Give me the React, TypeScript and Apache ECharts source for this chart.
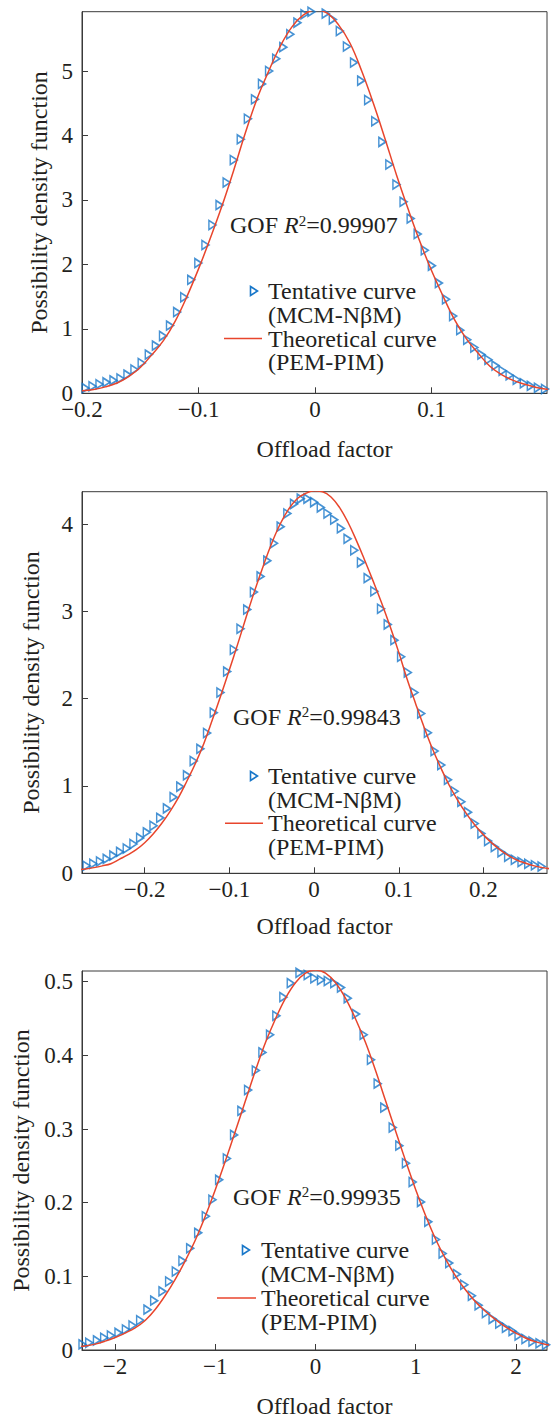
import React, { useEffect, useRef } from 'react';
import * as echarts from 'echarts';

// ---------- tick labels ----------
const X1_TICKS = [-0.2, -0.1, 0, 0.1];
const Y1_TICKS = [0, 1, 2, 3, 4, 5];
const X2_TICKS = [-0.2, -0.1, 0, 0.1, 0.2];
const Y2_TICKS = [0, 1, 2, 3, 4];
const X3_TICKS = [-2, -1, 0, 1, 2];
const Y3_TICKS = [0, 0.1, 0.2, 0.3, 0.4, 0.5];

// ---------- panel 1 ----------
const P1_MARK_X = [-0.1969, -0.191, -0.185, -0.179, -0.173, -0.167, -0.161, -0.155, -0.1488, -0.1427, -0.1366, -0.1305, -0.1245, -0.1184, -0.1123, -0.1063, -0.1002, -0.0941, -0.0881, -0.082, -0.0759, -0.0698, -0.0638, -0.0577, -0.0516, -0.0456, -0.0395, -0.0334, -0.0273, -0.0213, -0.0152, -0.0091, -0.0031, 0.003, 0.0091, 0.0152, 0.0212, 0.0273, 0.0334, 0.0395, 0.0455, 0.0516, 0.0577, 0.0637, 0.0698, 0.0759, 0.082, 0.088, 0.0941, 0.1002, 0.1062, 0.1123, 0.1184, 0.1245, 0.1305, 0.1366, 0.1427, 0.1487, 0.1548, 0.1609, 0.1669, 0.173, 0.1791, 0.1851, 0.1912, 0.1973];
const P1_MARK_Y = [0.08, 0.11, 0.14, 0.17, 0.2, 0.23, 0.29, 0.37, 0.47, 0.6, 0.74, 0.89, 1.05, 1.26, 1.49, 1.76, 2.02, 2.3, 2.61, 2.92, 3.27, 3.62, 3.94, 4.26, 4.56, 4.8, 5.0, 5.19, 5.37, 5.57, 5.75, 5.88, 5.92, 5.93, 5.89, 5.8, 5.62, 5.38, 5.13, 4.85, 4.55, 4.22, 3.9, 3.55, 3.24, 2.97, 2.71, 2.47, 2.22, 1.98, 1.71, 1.46, 1.2, 0.98, 0.83, 0.71, 0.6, 0.52, 0.43, 0.35, 0.28, 0.21, 0.155, 0.115, 0.087, 0.067];
const P1_CURVE_X = [-0.2, -0.19, -0.18, -0.17, -0.16, -0.15, -0.14, -0.13, -0.12, -0.11, -0.1, -0.09, -0.08, -0.07, -0.06, -0.05, -0.04, -0.03, -0.02, -0.01, 0, 0.01, 0.02, 0.03, 0.04, 0.05, 0.06, 0.07, 0.08, 0.09, 0.1, 0.11, 0.12, 0.13, 0.14, 0.15, 0.16, 0.17, 0.18, 0.19, 0.2];
const P1_CURVE_Y = [0.04, 0.06, 0.1, 0.16, 0.26, 0.4, 0.6, 0.82, 1.12, 1.5, 1.93, 2.4, 2.9, 3.45, 4.03, 4.56, 4.99, 5.38, 5.68, 5.87, 5.95, 5.9, 5.72, 5.43, 5.0, 4.5, 3.95, 3.38, 2.85, 2.35, 1.9, 1.5, 1.13, 0.84, 0.62, 0.42, 0.29, 0.2, 0.14, 0.09, 0.06];

// ---------- panel 2 ----------
const P2_MARK_X = [-0.2686, -0.2607, -0.2528, -0.2449, -0.237, -0.2291, -0.2212, -0.2133, -0.2054, -0.1975, -0.1896, -0.1817, -0.1738, -0.1659, -0.158, -0.1501, -0.1422, -0.1343, -0.1264, -0.1185, -0.1106, -0.1027, -0.0948, -0.0869, -0.079, -0.0711, -0.0632, -0.0553, -0.0474, -0.0395, -0.0316, -0.0237, -0.0158, -0.0079, 0.0, 0.0079, 0.0158, 0.0237, 0.0316, 0.0395, 0.0474, 0.0553, 0.0632, 0.0711, 0.079, 0.0869, 0.0948, 0.1027, 0.1106, 0.1185, 0.1264, 0.1343, 0.1422, 0.1501, 0.158, 0.1659, 0.1738, 0.1817, 0.1896, 0.1975, 0.2054, 0.2133, 0.2212, 0.2291, 0.237, 0.2449, 0.2528, 0.2607, 0.2686];
const P2_MARK_Y = [0.087, 0.11, 0.135, 0.165, 0.203, 0.245, 0.284, 0.335, 0.405, 0.469, 0.544, 0.635, 0.743, 0.872, 0.992, 1.122, 1.286, 1.425, 1.607, 1.84, 2.07, 2.31, 2.56, 2.8, 3.02, 3.22, 3.4, 3.58, 3.78, 3.97, 4.12, 4.23, 4.29, 4.29, 4.25, 4.19, 4.12, 4.05, 3.95, 3.83, 3.7, 3.56, 3.38, 3.23, 3.03, 2.85, 2.67, 2.48, 2.3, 2.07, 1.83, 1.61, 1.4, 1.24, 1.07, 0.94, 0.82, 0.7, 0.57, 0.455, 0.37, 0.3, 0.24, 0.19, 0.155, 0.13, 0.11, 0.092, 0.078];
const P2_CURVE_X = [-0.28, -0.27, -0.26, -0.25, -0.24, -0.23, -0.22, -0.21, -0.2, -0.19, -0.18, -0.17, -0.16, -0.15, -0.14, -0.13, -0.12, -0.11, -0.1, -0.09, -0.08, -0.07, -0.06, -0.05, -0.04, -0.03, -0.02, -0.01, 0, 0.01, 0.02, 0.03, 0.04, 0.05, 0.06, 0.07, 0.08, 0.09, 0.1, 0.11, 0.12, 0.13, 0.14, 0.15, 0.16, 0.17, 0.18, 0.19, 0.2, 0.21, 0.22, 0.23, 0.24, 0.25, 0.26, 0.27, 0.28];
const P2_CURVE_Y = [0.04, 0.05, 0.065, 0.085, 0.11, 0.16, 0.21, 0.27, 0.35, 0.45, 0.57, 0.71, 0.87, 1.06, 1.26, 1.49, 1.76, 2.04, 2.33, 2.63, 2.94, 3.24, 3.52, 3.78, 4.0, 4.17, 4.29, 4.35, 4.38, 4.37, 4.31, 4.19, 4.02, 3.81, 3.58, 3.34, 3.09, 2.82, 2.53, 2.22, 1.94, 1.67, 1.42, 1.2, 1.0, 0.83, 0.68, 0.55, 0.44, 0.345, 0.265, 0.2, 0.15, 0.115, 0.085, 0.065, 0.05];

// ---------- panel 3 ----------
const P3_MARK_X = [-2.325, -2.258, -2.181, -2.109, -2.042, -1.966, -1.892, -1.826, -1.75, -1.677, -1.61, -1.527, -1.461, -1.394, -1.328, -1.251, -1.171, -1.095, -1.029, -0.962, -0.885, -0.813, -0.74, -0.673, -0.596, -0.53, -0.454, -0.391, -0.321, -0.247, -0.16, -0.078, -0.012, 0.055, 0.122, 0.187, 0.254, 0.321, 0.404, 0.48, 0.553, 0.62, 0.686, 0.77, 0.836, 0.902, 0.969, 1.052, 1.125, 1.201, 1.268, 1.334, 1.411, 1.484, 1.56, 1.627, 1.7, 1.767, 1.833, 1.9, 1.966, 2.026, 2.095, 2.165, 2.235, 2.3];
const P3_MARK_Y = [0.0076, 0.0098, 0.013, 0.0166, 0.0197, 0.0233, 0.0278, 0.0332, 0.0404, 0.0548, 0.067, 0.0796, 0.093, 0.1066, 0.121, 0.138, 0.159, 0.1816, 0.204, 0.231, 0.26, 0.292, 0.3246, 0.353, 0.3795, 0.404, 0.428, 0.4537, 0.479, 0.498, 0.512, 0.509, 0.5046, 0.5023, 0.501, 0.498, 0.492, 0.4776, 0.456, 0.428, 0.394, 0.3616, 0.329, 0.302, 0.2774, 0.2536, 0.228, 0.201, 0.174, 0.15, 0.131, 0.118, 0.103, 0.0886, 0.0737, 0.0607, 0.0503, 0.0422, 0.0359, 0.0301, 0.0256, 0.0197, 0.015, 0.0115, 0.009, 0.007];
const P3_CURVE_X = [-2.4, -2.3, -2.2, -2.1, -2.0, -1.9, -1.8, -1.7, -1.6, -1.5, -1.4, -1.3, -1.2, -1.1, -1.0, -0.9, -0.8, -0.7, -0.6, -0.5, -0.4, -0.3, -0.2, -0.1, 0, 0.1, 0.2, 0.3, 0.4, 0.5, 0.6, 0.7, 0.8, 0.9, 1.0, 1.1, 1.2, 1.3, 1.4, 1.5, 1.6, 1.7, 1.8, 1.9, 2.0, 2.1, 2.2, 2.3, 2.4];
const P3_CURVE_Y = [0.004, 0.0055, 0.008, 0.012, 0.017, 0.023, 0.03, 0.04, 0.055, 0.074, 0.096, 0.121, 0.149, 0.1815, 0.2176, 0.2564, 0.2969, 0.338, 0.379, 0.417, 0.4494, 0.4774, 0.4985, 0.5116, 0.516, 0.5116, 0.4985, 0.4774, 0.4494, 0.417, 0.379, 0.338, 0.2969, 0.2564, 0.2176, 0.182, 0.15, 0.123, 0.1, 0.081, 0.065, 0.052, 0.041, 0.031, 0.023, 0.016, 0.011, 0.0075, 0.005];

// ---------- texts ----------
const GOF_VALUES = ['0.99907', '0.99843', '0.99935'];
const MARK_NAME = ['Tentative curve', '(MCM-N\u03b2M)'];
const CURVE_NAME = ['Theoretical curve', '(PEM-PIM)'];
const X_TITLE = 'Offload factor';
const Y_TITLE = 'Possibility density function';

const FONT = "'Liberation Serif', 'Times New Roman', Times, serif";
const INK = '#231f20';
const FRAME = '#3a3a3a';
const BLUE = '#1877c9';
const RED = '#e8452c';
const TRI = 'path://M0,0L10,5L0,10Z';

const fmt = (v: number) => (v < 0 ? '\u2212' + String(Math.abs(v)) : String(v));
const zip = (xs: number[], ys: number[]) => xs.map((x, i) => [x, ys[i]]);

// layout of the three panels (page pixels)
const PANELS = [
  { top: 11.7, height: 381.6, xmin: -0.2, xmax: 0.199, ymax: 5.92, xt: X1_TICKS, yt: Y1_TICKS, xGap: 44, yGap: 31,
    mx: P1_MARK_X, my: P1_MARK_Y, cx: P1_CURVE_X, cy: P1_CURVE_Y,
    gof: [230, 225], leg: { mk: 254, tx: 268, l1: 224, l2: 262, ys: [291, 315, 338.5, 362] } },
  { top: 491.7, height: 381.6, xmin: -0.274, xmax: 0.275, ymax: 4.37, xt: X2_TICKS, yt: Y2_TICKS, xGap: 41, yGap: 39,
    mx: P2_MARK_X, my: P2_MARK_Y, cx: P2_CURVE_X, cy: P2_CURVE_Y,
    gof: [233, 716.7], leg: { mk: 254, tx: 268, l1: 225, l2: 263, ys: [776, 800, 823.3, 846.7] } },
  { top: 971, height: 381.3, xmin: -2.33, xmax: 2.31, ymax: 0.5145, xt: X3_TICKS, yt: Y3_TICKS, xGap: 44, yGap: 49,
    mx: P3_MARK_X, my: P3_MARK_Y, cx: P3_CURVE_X, cy: P3_CURVE_Y,
    gof: [233, 1196.7], leg: { mk: 246, tx: 261, l1: 217, l2: 256, ys: [1250, 1274, 1298, 1321.7] } },
];

function buildOption() {
  const grid: any[] = [];
  const xAxis: any[] = [];
  const yAxis: any[] = [];
  const series: any[] = [];
  const graphic: any[] = [];

  PANELS.forEach((p, i) => {
    grid.push({ left: 82, top: p.top, width: 465, height: p.height, show: true, borderColor: FRAME, borderWidth: 1, backgroundColor: 'transparent' });
    xAxis.push({
      type: 'value', gridIndex: i, min: p.xmin, max: p.xmax,
      name: X_TITLE, nameLocation: 'middle', nameGap: p.xGap,
      nameTextStyle: { fontFamily: FONT, fontSize: 24, color: INK, padding: [0, 0, 0, 20] },
      axisLine: { show: true, onZero: false, lineStyle: { color: FRAME, width: 1 } },
      axisTick: { show: true, inside: true, length: 6, customValues: p.xt, lineStyle: { color: FRAME, width: 1 } },
      axisLabel: { customValues: p.xt, formatter: fmt, fontFamily: FONT, fontSize: 23, lineHeight: 16, color: INK, margin: 8 },
      splitLine: { show: false },
    });
    yAxis.push({
      type: 'value', gridIndex: i, min: 0, max: p.ymax,
      name: Y_TITLE, nameLocation: 'middle', nameGap: p.yGap,
      nameTextStyle: { fontFamily: FONT, fontSize: 24, color: INK },
      axisLine: { show: true, onZero: false, lineStyle: { color: FRAME, width: 1 } },
      axisTick: { show: true, inside: true, length: 6, customValues: p.yt, lineStyle: { color: FRAME, width: 1 } },
      axisLabel: { customValues: p.yt, formatter: fmt, fontFamily: FONT, fontSize: 23, lineHeight: 16, color: INK, margin: 9 },
      splitLine: { show: false },
    });
    series.push({
      type: 'scatter', name: MARK_NAME.join(' '), xAxisIndex: i, yAxisIndex: i,
      data: zip(p.mx, p.my), symbol: TRI, symbolSize: [7, 9], silent: true,
      itemStyle: { color: 'rgba(0,0,0,0)', borderColor: BLUE, borderWidth: 1.6 }, z: 2,
    });
    series.push({
      type: 'line', name: CURVE_NAME.join(' '), xAxisIndex: i, yAxisIndex: i,
      data: zip(p.cx, p.cy), smooth: 0.4, symbol: 'none', silent: true, clip: true,
      lineStyle: { color: RED, width: 1.5 }, z: 3,
    });

    // GOF annotation
    graphic.push({
      type: 'text', x: p.gof[0], y: p.gof[1], silent: true,
      style: {
        text: `{a|GOF }{b|R}{c|2}{a|=${GOF_VALUES[i]}}`,
        verticalAlign: 'middle', fill: INK,
        rich: {
          a: { fontFamily: FONT, fontSize: 24, fill: INK },
          b: { fontFamily: FONT, fontSize: 24, fontStyle: 'italic', fill: INK },
          c: { fontFamily: FONT, fontSize: 15, verticalAlign: 'top', fill: INK },
        },
      },
    });
    // legend
    const L = p.leg;
    graphic.push({
      type: 'polygon', silent: true,
      shape: { points: [[L.mk - 3.5, L.ys[0] - 4.5], [L.mk + 3.5, L.ys[0]], [L.mk - 3.5, L.ys[0] + 4.5]] },
      style: { fill: 'none', stroke: BLUE, lineWidth: 1.6 },
    });
    graphic.push({
      type: 'line', silent: true,
      shape: { x1: L.l1, y1: L.ys[2], x2: L.l2, y2: L.ys[2] },
      style: { stroke: RED, lineWidth: 1.5 },
    });
    const lines = [MARK_NAME[0], MARK_NAME[1], CURVE_NAME[0], CURVE_NAME[1]];
    lines.forEach((t, k) => {
      graphic.push({
        type: 'text', x: L.tx, y: L.ys[k], silent: true,
        style: { text: t, fontFamily: FONT, fontSize: 24, fill: INK, verticalAlign: 'middle', align: 'left' },
      });
    });
  });

  return { animation: false, backgroundColor: '#ffffff', grid, xAxis, yAxis, series, graphic };
}

export default function App() {
  const ref = useRef<HTMLDivElement>(null);
  useEffect(() => {
    if (!ref.current) return;
    const chart = echarts.init(ref.current, undefined, { renderer: 'svg' });
    chart.setOption(buildOption());
    return () => chart.dispose();
  }, []);
  return <div ref={ref} style={{ position: 'absolute', left: 0, top: 0, width: 552, height: 1419 }} />;
}
